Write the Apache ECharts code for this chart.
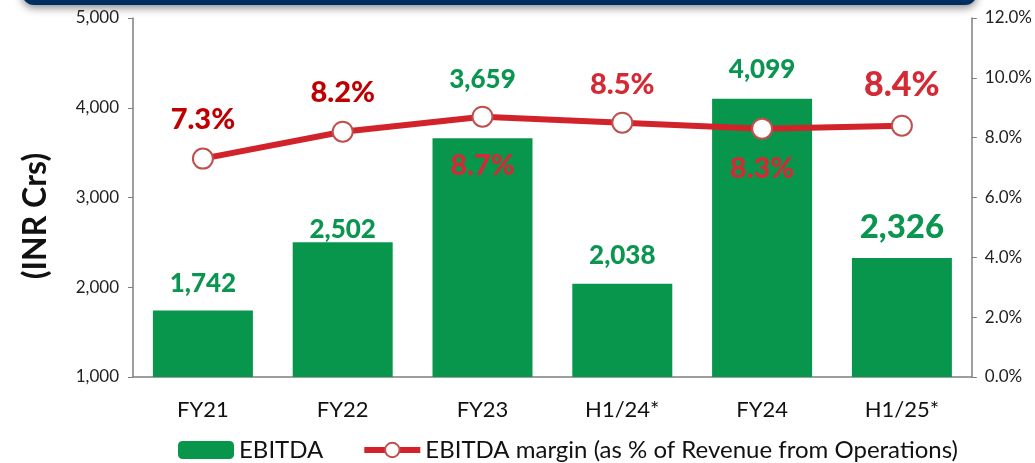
<!DOCTYPE html>
<html>
<head>
<meta charset="UTF-8">
<script src="https://cdn.jsdelivr.net/npm/echarts@6/dist/echarts.min.js"></script>
<style>
html,body{margin:0;padding:0;background:#fff;}
#main{width:1035px;height:463px;}
</style>
</head>
<body>
<div id="main"></div>
<script>
var categories = ["FY21", "FY22", "FY23", "H1/24*", "FY24", "H1/25*"];
var ebitda = [1742, 2502, 3659, 2038, 4099, 2326];
var margin = [7.3, 8.2, 8.7, 8.5, 8.3, 8.4];
var leftTicks = [1000, 2000, 3000, 4000, 5000];
var rightTicks = [0, 2, 4, 6, 8, 10, 12];

// label placement tweaks (not data)
var barLabelDist = [14, 0, 46, 15, 16, 14];
var barLabelSize = [26, 26, 26, 26, 26, 33];
var lineLabelDy = [-39, -39, 49, -38, 40, -41];
var lineLabelSize = [29, 29, 29, 29, 29, 34];
var lineLabelColor = ["#c00000", "#c00000", "#d42a35", "#d42a35", "#d42a35", "#d42a35"];

var FONT = "Lato";
var myChart = echarts.init(document.getElementById('main'));

var barData = ebitda.map(function (v, i) {
  return {
    value: v,
    label: { distance: barLabelDist[i], fontSize: barLabelSize[i] }
  };
});
var lineData = margin.map(function (v, i) {
  return {
    value: v,
    label: { offset: [0, lineLabelDy[i]], fontSize: lineLabelSize[i], color: lineLabelColor[i] }
  };
});

myChart.setOption({
  animation: false,
  textStyle: { fontFamily: FONT },
  graphic: [{
    type: 'rect',
    shape: { x: 22, y: -30, width: 955, height: 35, r: 12 },
    style: { fill: '#002d62', shadowBlur: 8, shadowColor: 'rgba(0,0,0,0.45)', shadowOffsetY: 3 }
  }, {
    type: 'text',
    x: 36,
    y: 216,
    rotation: Math.PI / 2,
    style: {
      text: '(INR Crs)',
      fontFamily: FONT,
      fontSize: 32,
      fontWeight: 'bold',
      fill: '#111',
      align: 'center',
      verticalAlign: 'middle'
    }
  }],
  grid: { left: 133, right: 60, top: 18, bottom: 86 },
  legend: {
    bottom: -4,
    left: 173,
    itemGap: 38,
    itemWidth: 56,
    itemHeight: 18,
    textStyle: { fontFamily: FONT, fontSize: 24, color: '#111' },
    data: [
      { name: 'EBITDA', itemStyle: { color: '#08964d' } },
      { name: 'EBITDA margin (as % of Revenue from Operations)', lineStyle: { width: 6, color: '#d2232a' } }
    ]
  },
  xAxis: {
    type: 'category',
    data: categories,
    axisLine: { lineStyle: { color: '#7f7f7f', width: 1.5 } },
    axisTick: { show: false },
    axisLabel: { fontSize: 22, color: '#111', margin: 22, fontFamily: FONT }
  },
  yAxis: [{
    type: 'value',
    min: leftTicks[0],
    max: leftTicks[leftTicks.length - 1],
    interval: 1000,
    splitLine: { show: false },
    axisLine: { show: true, lineStyle: { color: '#7f7f7f', width: 1.5 } },
    axisTick: { show: true, length: 5, lineStyle: { color: '#7f7f7f' } },
    axisLabel: {
      fontSize: 17, color: '#222', margin: 14,
      formatter: function (v) { return v.toLocaleString('en-US'); }
    }
  }, {
    type: 'value',
    min: rightTicks[0],
    max: rightTicks[rightTicks.length - 1],
    interval: 2,
    position: 'right',
    splitLine: { show: false },
    axisLine: { show: true, lineStyle: { color: '#7f7f7f', width: 1.5 } },
    axisTick: { show: true, length: 5, lineStyle: { color: '#7f7f7f' } },
    axisLabel: {
      fontSize: 17, color: '#222', margin: 13,
      formatter: function (v) { return v.toFixed(1) + '%'; }
    }
  }],
  series: [{
    name: 'EBITDA',
    type: 'bar',
    yAxisIndex: 0,
    barWidth: 100,
    itemStyle: { color: '#08964d' },
    label: {
      show: true,
      position: 'top',
      color: '#0a9650',
      fontWeight: 900,
      fontFamily: FONT,
      formatter: function (p) { return p.value.toLocaleString('en-US'); }
    },
    data: barData,
    z: 2
  }, {
    name: 'EBITDA margin (as % of Revenue from Operations)',
    type: 'line',
    yAxisIndex: 1,
    symbol: 'circle',
    symbolSize: 20,
    lineStyle: { color: '#d2232a', width: 6 },
    itemStyle: { color: '#ffffff', borderColor: '#c0504d', borderWidth: 2 },
    label: {
      show: true,
      position: 'inside',
      fontWeight: 900,
      fontFamily: FONT,
      formatter: function (p) { return p.value.toFixed(1) + '%'; }
    },
    data: lineData,
    z: 5
  }]
});
</script>
</body>
</html>
